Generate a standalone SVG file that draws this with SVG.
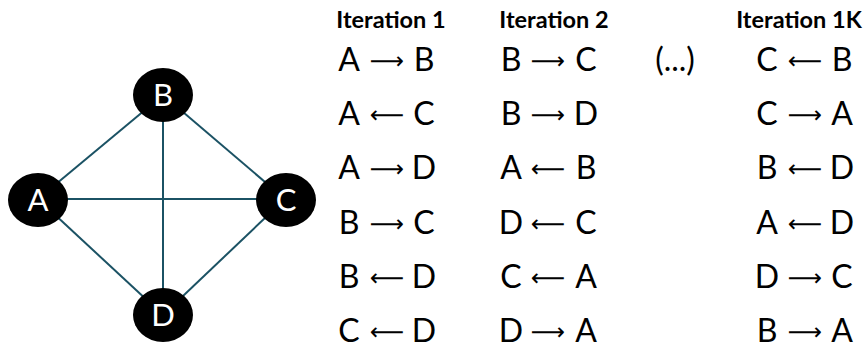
<svg xmlns="http://www.w3.org/2000/svg" width="866" height="349" viewBox="0 0 866 349">
<style>
.edge{stroke:#1b5264;stroke-width:2;fill:none}
.node{fill:#000}
.nl{fill:#fff;font-family:Lato,"Liberation Sans",sans-serif;font-size:31px;text-anchor:middle}
.hd{fill:#000;font-family:Lato,"Liberation Sans",sans-serif;font-weight:bold;font-size:23.5px;text-anchor:middle}
.row{fill:#000;font-family:Lato,"Liberation Sans",sans-serif;font-size:32px;text-anchor:middle}
.ar{font-family:"DejaVu Sans",sans-serif;font-size:24px}
</style>
<rect width="866" height="349" fill="#fff"/>
<g id="connectors">
<line class="edge" x1="38" y1="199" x2="163" y2="95"/>
<line class="edge" x1="38" y1="199" x2="285" y2="199"/>
<line class="edge" x1="38" y1="199" x2="163" y2="315"/>
<line class="edge" x1="163" y1="95" x2="285" y2="199"/>
<line class="edge" x1="163" y1="95" x2="163" y2="315"/>
<line class="edge" x1="285" y1="199" x2="163" y2="315"/>
</g>
<g id="node-B"><ellipse class="node" cx="163" cy="95" rx="30" ry="27"/><text class="nl" x="163" y="106">B</text></g>
<g id="node-A"><ellipse class="node" cx="38" cy="200" rx="30" ry="27"/><text class="nl" x="38" y="211">A</text></g>
<g id="node-C"><ellipse class="node" cx="286" cy="200" rx="30" ry="27"/><text class="nl" x="286" y="211">C</text></g>
<g id="node-D"><ellipse class="node" cx="163" cy="315" rx="30" ry="27"/><text class="nl" x="163" y="326">D</text></g>
<g id="headers">
<text class="hd" x="391" y="28">Iteration 1</text>
<text class="hd" x="554" y="28">Iteration 2</text>
<text class="hd" x="799" y="28">Iteration 1K</text>
</g>
<g id="col1">
<text class="row" y="71"><tspan x="349">A</tspan><tspan class="ar" x="387" dy="-2">⟶</tspan><tspan x="424" dy="2">B</tspan></text>
<text class="row" y="125.2"><tspan x="349">A</tspan><tspan class="ar" x="387" dy="-2">⟵</tspan><tspan x="424" dy="2">C</tspan></text>
<text class="row" y="179.4"><tspan x="349">A</tspan><tspan class="ar" x="387" dy="-2">⟶</tspan><tspan x="424" dy="2">D</tspan></text>
<text class="row" y="233.6"><tspan x="349">B</tspan><tspan class="ar" x="387" dy="-2">⟶</tspan><tspan x="424" dy="2">C</tspan></text>
<text class="row" y="287.8"><tspan x="349">B</tspan><tspan class="ar" x="387" dy="-2">⟵</tspan><tspan x="424" dy="2">D</tspan></text>
<text class="row" y="342"><tspan x="349">C</tspan><tspan class="ar" x="387" dy="-2">⟵</tspan><tspan x="424" dy="2">D</tspan></text>
</g>
<g id="col2">
<text class="row" y="71"><tspan x="511">B</tspan><tspan class="ar" x="548" dy="-2">⟶</tspan><tspan x="586" dy="2">C</tspan></text>
<text class="row" y="125.2"><tspan x="511">B</tspan><tspan class="ar" x="548" dy="-2">⟶</tspan><tspan x="586" dy="2">D</tspan></text>
<text class="row" y="179.4"><tspan x="511">A</tspan><tspan class="ar" x="548" dy="-2">⟵</tspan><tspan x="586" dy="2">B</tspan></text>
<text class="row" y="233.6"><tspan x="511">D</tspan><tspan class="ar" x="548" dy="-2">⟵</tspan><tspan x="586" dy="2">C</tspan></text>
<text class="row" y="287.8"><tspan x="511">C</tspan><tspan class="ar" x="548" dy="-2">⟵</tspan><tspan x="586" dy="2">A</tspan></text>
<text class="row" y="342"><tspan x="511">D</tspan><tspan class="ar" x="548" dy="-2">⟶</tspan><tspan x="586" dy="2">A</tspan></text>
</g>
<text class="row" x="675" y="71">(...)</text>
<g id="col4">
<text class="row" y="71"><tspan x="767">C</tspan><tspan class="ar" x="805" dy="-2">⟵</tspan><tspan x="842" dy="2">B</tspan></text>
<text class="row" y="125.2"><tspan x="767">C</tspan><tspan class="ar" x="805" dy="-2">⟶</tspan><tspan x="842" dy="2">A</tspan></text>
<text class="row" y="179.4"><tspan x="767">B</tspan><tspan class="ar" x="805" dy="-2">⟵</tspan><tspan x="842" dy="2">D</tspan></text>
<text class="row" y="233.6"><tspan x="767">A</tspan><tspan class="ar" x="805" dy="-2">⟵</tspan><tspan x="842" dy="2">D</tspan></text>
<text class="row" y="287.8"><tspan x="767">D</tspan><tspan class="ar" x="805" dy="-2">⟶</tspan><tspan x="842" dy="2">C</tspan></text>
<text class="row" y="342"><tspan x="767">B</tspan><tspan class="ar" x="805" dy="-2">⟶</tspan><tspan x="842" dy="2">A</tspan></text>
</g>
</svg>
